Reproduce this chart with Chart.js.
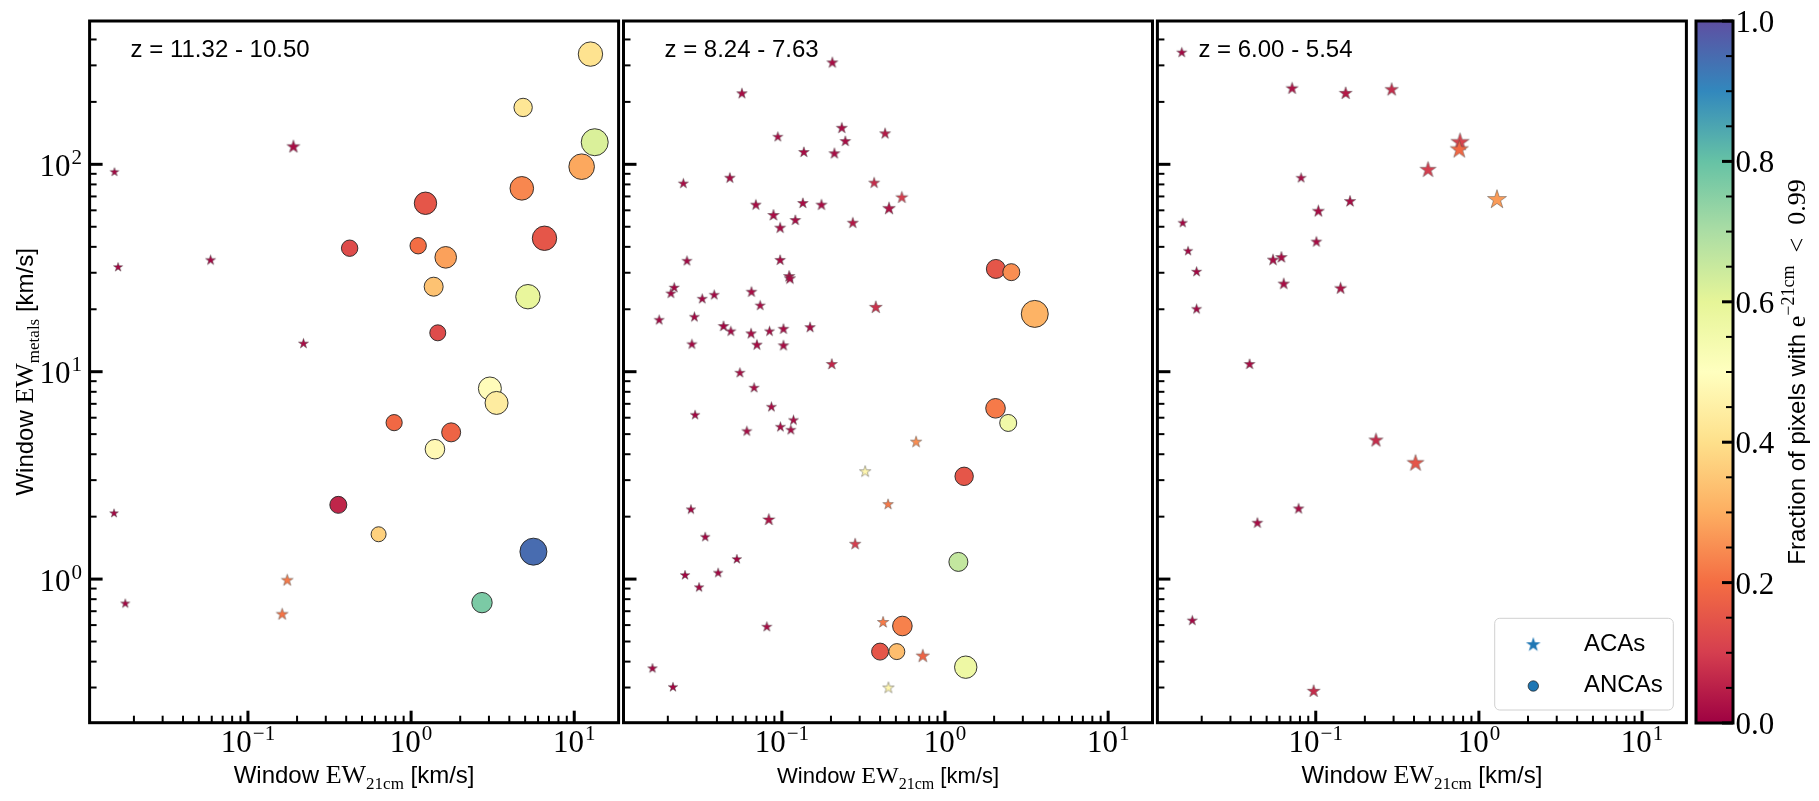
<!DOCTYPE html>
<html>
<head>
<meta charset="utf-8">
<title>Window EW scatter</title>
<script src="https://cdn.jsdelivr.net/npm/chart.js@4.4.1/dist/chart.umd.min.js"></script>
<style>
    html, body { margin: 0; padding: 0; background: #fff; }
    #wrap { position: relative; width: 1819px; height: 801px; overflow: hidden; }
    #wrap canvas { position: absolute; left: 0; top: 0; }
</style>
</head>
<body>
<div id="wrap">
    <canvas id="panel1" width="1819" height="801"></canvas>
    <canvas id="panel2" width="1819" height="801"></canvas>
    <canvas id="panel3" width="1819" height="801"></canvas>
    <canvas id="cbar" width="1819" height="801"></canvas>
</div>
<script>
// axis ranges and tick labels
const X_MIN = 0.0107, X_MAX = 18.7;
const Y_MIN = 0.203, Y_MAX = 491;
const xMajorTicks = [0.1, 1, 10];
const xTickExp = ["\u22121", "0", "1"];
const yMajorTicks = [1, 10, 100];
const yTickExp = ["0", "1", "2"];
const cbarTicks = [0, 0.2, 0.4, 0.6, 0.8, 1.0];
const cbarTickLabels = ["0.0", "0.2", "0.4", "0.6", "0.8", "1.0"];
const panelTitles = ["z = 11.32 - 10.50", "z = 8.24 - 7.63", "z = 6.00 - 5.54"];
const legendLabels = ["ACAs", "ANCAs"];

// panel 1 (z = 11.32 - 10.50)
const p1StarX = [0.0152, 0.19, 0.016, 0.059, 0.219, 0.0151, 0.174, 0.0177, 0.162];
const p1StarY = [92, 122, 32, 34.6, 13.7, 2.08, 0.99, 0.764, 0.679];
const p1StarFrac = [0.01, 0.02, 0.01, 0.01, 0.02, 0.01, 0.22, 0.01, 0.21];
const p1StarSize = [4.6, 6.8, 4.8, 5.3, 5.3, 4.6, 6.2, 4.8, 6.2];
const p1CircX = [4.86, 4.77, 1.225, 0.42, 1.105, 1.63, 1.375, 1.457, 5.2, 3.04, 3.34, 0.787, 1.76, 1.40, 0.358, 0.632, 2.72, 5.62, 12.57, 13.35, 11.1, 6.57];
const p1CircY = [188, 76.6, 64.9, 39.4, 40.5, 35.6, 25.7, 15.4, 23, 8.3, 7.07, 5.68, 5.1, 4.23, 2.28, 1.645, 0.77, 1.356, 340, 127.8, 97.4, 44];
const p1CircFrac = [0.42, 0.24, 0.15, 0.13, 0.2, 0.28, 0.34, 0.13, 0.59, 0.49, 0.44, 0.19, 0.18, 0.48, 0.06, 0.37, 0.77, 0.95, 0.41, 0.62, 0.29, 0.15];
const p1CircSize = [9.7, 12.3, 11.7, 8.7, 8.7, 11.3, 10, 8.5, 12.7, 12, 12, 8.6, 10, 10.3, 9, 8, 10.7, 14, 12.7, 14, 13.3, 12.7];

// panel 2 (z = 8.24 - 7.63)
const p2StarX = [0.204, 0.0569, 0.233, 0.0945, 0.4295, 0.245, 0.1364, 0.21, 0.0249, 0.048,
    0.368, 0.5436, 0.454, 0.0693, 0.1345, 0.1749, 0.0888, 0.121, 0.0976, 0.272,
    0.0262, 0.0976, 0.1109, 0.112, 0.0219, 0.0209, 0.0325, 0.0385, 0.0651, 0.0736,
    0.3766, 0.0177, 0.0291, 0.0439, 0.0487, 0.0648, 0.084, 0.1023, 0.149, 0.0281,
    0.0703, 0.1023, 0.2024, 0.0553, 0.0676, 0.0294, 0.0863, 0.061, 0.098, 0.1178,
    0.1135, 0.665, 0.324, 0.448, 0.0277, 0.0832, 0.0339, 0.2813, 0.053, 0.0255,
    0.0407, 0.0311, 0.0809, 0.4175, 0.731, 0.0161, 0.0215, 0.45];
const p2StarY = [310, 220, 150, 136, 141, 129.5, 114.7, 113, 81, 86.2,
    81.6, 69.4, 61.4, 63.9, 65.1, 63.9, 57, 53.9, 49.5, 52.3,
    34.3, 34.6, 28.9, 28.2, 25.5, 23.9, 22.5, 23.5, 24.3, 20.9,
    20.5, 17.8, 18.4, 16.6, 15.7, 15.3, 15.7, 16.1, 16.4, 13.6,
    13.5, 13.4, 10.9, 9.9, 8.38, 6.2, 6.78, 5.18, 5.43, 5.85,
    5.25, 4.6, 3.31, 2.30, 2.17, 1.94, 1.6, 1.48, 1.25, 1.047,
    1.074, 0.914, 0.59, 0.621, 0.427, 0.372, 0.302, 0.30];
const p2StarFrac = [0.02, 0.02, 0.02, 0.02, 0.04, 0.02, 0.02, 0.02, 0.02, 0.02,
    0.07, 0.1, 0.03, 0.02, 0.02, 0.02, 0.02, 0.02, 0.02, 0.04,
    0.01, 0.02, 0.02, 0.02, 0.01, 0.01, 0.01, 0.01, 0.02, 0.02,
    0.08, 0.01, 0.01, 0.01, 0.01, 0.02, 0.02, 0.02, 0.02, 0.01,
    0.02, 0.02, 0.06, 0.02, 0.02, 0.01, 0.02, 0.02, 0.02, 0.02,
    0.02, 0.25, 0.47, 0.22, 0.01, 0.03, 0.01, 0.1, 0.01, 0.01,
    0.01, 0.01, 0.02, 0.22, 0.18, 0.01, 0.01, 0.47];
const p2StarSize = [5.8, 5.6, 5.8, 5.3, 5.8, 5.6, 5.6, 5.8, 5.3, 5.6,
    5.8, 6.3, 6.7, 5.6, 5.6, 5.8, 6.0, 5.6, 5.8, 5.8,
    5.3, 5.6, 6.0, 6.0, 5.3, 5.3, 5.3, 5.3, 5.6, 5.3,
    6.7, 5.3, 5.3, 5.6, 5.3, 5.6, 5.3, 5.6, 5.6, 5.3,
    5.6, 5.6, 5.8, 5.3, 5.3, 5.0, 5.3, 5.3, 5.3, 5.3,
    5.3, 6.0, 6.0, 5.6, 5.0, 6.3, 5.0, 6.0, 5.0, 5.0,
    5.0, 5.0, 5.3, 6.0, 7.0, 5.0, 5.0, 6.0];
const p2CircX = [2.05, 2.55, 3.55, 2.04, 2.44, 1.31, 1.208, 0.548, 0.40, 0.5066, 1.34];
const p2CircY = [31.3, 30.2, 19.0, 6.66, 5.66, 3.13, 1.21, 0.594, 0.447, 0.447, 0.376];
const p2CircFrac = [0.15, 0.25, 0.31, 0.22, 0.56, 0.15, 0.66, 0.23, 0.15, 0.33, 0.57];
const p2CircSize = [10, 9, 14, 10.3, 9, 9.7, 10, 10.3, 9, 8.5, 11.7];

// panel 3 (z = 6.00 - 5.54)
const p3StarX = [0.0151, 0.0716, 0.1525, 0.2918, 0.4876, 0.766, 0.758, 1.29, 0.0813, 0.1622,
    0.1037, 0.0153, 0.1009, 0.0165, 0.0547, 0.0616, 0.0186, 0.0636, 0.142, 0.0186,
    0.0393, 0.234, 0.409, 0.0439, 0.0785, 0.0175, 0.0971];
const p3StarY = [347, 233, 220.7, 230, 94.6, 128.4, 118.6, 68, 86.2, 66.5,
    59.6, 52.3, 42.4, 38.3, 34.7, 35.7, 30.4, 26.6, 25.3, 20.1,
    10.9, 4.69, 3.64, 1.87, 2.19, 0.633, 0.289];
const p3StarFrac = [0.01, 0.03, 0.04, 0.07, 0.1, 0.11, 0.19, 0.27, 0.02, 0.02,
    0.02, 0.01, 0.02, 0.01, 0.02, 0.02, 0.01, 0.02, 0.03, 0.01,
    0.02, 0.07, 0.15, 0.02, 0.02, 0.01, 0.07];
const p3StarSize = [5.3, 6.3, 6.7, 7.0, 8.4, 9.5, 9.5, 10, 5.3, 6.0,
    6.3, 4.9, 5.6, 4.9, 6.0, 6.0, 5.3, 6.0, 6.3, 5.3,
    5.6, 7.4, 8.8, 5.6, 5.6, 5.3, 6.7];

// Spectral colormap anchors
const SPECTRAL = ["#9e0142", "#d53e4f", "#f46d43", "#fdae61", "#fee08b", "#ffffbf",
    "#e6f598", "#abdda4", "#66c2a5", "#3288bd", "#5e4fa2"];

// layout of the figure
const PANEL_LEFT = [89.6, 623.5, 1157.4];
const PANEL_W = 529;
const PLOT_TOP = 21, PLOT_BOTTOM = 722.7;
const FIG_W = 1819, FIG_H = 801;

const SANS = '"Liberation Sans", Arial, sans-serif';
const SERIF = '"Liberation Serif", "Times New Roman", serif';

function hexToRgb(h) {
    return [parseInt(h.slice(1, 3), 16), parseInt(h.slice(3, 5), 16), parseInt(h.slice(5, 7), 16)];
}

function spectral(t) {
    t = Math.min(1, Math.max(0, t)) * (SPECTRAL.length - 1);
    const i = Math.min(Math.floor(t), SPECTRAL.length - 2);
    const f = t - i;
    const a = hexToRgb(SPECTRAL[i]), b = hexToRgb(SPECTRAL[i + 1]);
    const c = a.map((v, k) => Math.round(v + (b[k] - v) * f));
    return "rgb(" + c.join(",") + ")";
}

// filled 5 point star (matplotlib "*" marker) as a canvas point style
const starCache = {};
function starImage(color, r, edge) {
    const key = color + "|" + r + "|" + edge;
    if (starCache[key]) return starCache[key];
    const s = Math.ceil(2 * r + 4);
    const c = document.createElement("canvas");
    c.width = s;
    c.height = s;
    const g = c.getContext("2d");
    g.translate(s / 2, s / 2 + r * 0.06);
    g.beginPath();
    for (let k = 0; k < 10; k++) {
        const rr = k % 2 === 0 ? r : r * 0.381966;
        const a = -Math.PI / 2 + k * Math.PI / 5;
        g.lineTo(rr * Math.cos(a), rr * Math.sin(a));
    }
    g.closePath();
    g.fillStyle = color;
    g.fill();
    if (edge) {
        g.lineWidth = 0.6;
        g.strokeStyle = edge;
        g.stroke();
    }
    starCache[key] = c;
    return c;
}

function logTicks(min, max) {
    const out = [];
    for (let e = Math.floor(Math.log10(min)); e <= Math.ceil(Math.log10(max)); e++) {
        for (let m = 1; m < 10; m++) {
            const v = parseFloat((m * Math.pow(10, e)).toPrecision(6));
            if (v >= min && v <= max) out.push({value: v, major: m === 1});
        }
    }
    return out;
}

function drawRich(ctx, parts, x, y, align) {
    let w = 0;
    parts.forEach(function (p) {
        ctx.font = p.font;
        p.w = ctx.measureText(p.text).width;
        w += p.w;
    });
    let cx = align === "center" ? x - w / 2 : (align === "right" ? x - w : x);
    ctx.textAlign = "left";
    ctx.textBaseline = "alphabetic";
    parts.forEach(function (p) {
        ctx.font = p.font;
        ctx.fillText(p.text, cx, y + (p.dy || 0));
        cx += p.w;
    });
}

// "10" with a raised exponent
function drawPow(ctx, exp, x, y, align) {
    const base = "31px " + SERIF, small = "21px " + SERIF;
    ctx.font = base;
    const wb = ctx.measureText("10").width;
    ctx.font = small;
    const we = ctx.measureText(exp).width;
    const w = wb + 1 + we;
    const sx = align === "center" ? x - w / 2 : x - w;
    ctx.textAlign = "left";
    ctx.textBaseline = "alphabetic";
    ctx.font = base;
    ctx.fillText("10", sx, y);
    ctx.font = small;
    ctx.fillText(exp, sx + wb + 1, y - 12);
}

function ewTitle(sub, size) {
    return [
        {text: "Window ", font: size + "px " + SANS},
        {text: "EW", font: (size + 2) + "px " + SERIF},
        {text: sub, font: Math.round(size * 0.72) + "px " + SERIF, dy: 5.5},
        {text: " [km/s]", font: size + "px " + SANS},
    ];
}

function strokeLine(ctx, x1, y1, x2, y2) {
    ctx.beginPath();
    ctx.moveTo(x1, y1);
    ctx.lineTo(x2, y2);
    ctx.stroke();
}

function panelDecor(i) {
    return {
        id: "panelDecor" + i,
        afterDatasetsDraw(chart) {
            const ctx = chart.ctx;
            const a = chart.chartArea;
            const xs = chart.scales.x, ys = chart.scales.y;
            ctx.save();
            ctx.strokeStyle = "#000";
            ctx.fillStyle = "#000";
            ctx.lineCap = "butt";

            // inward ticks
            xs.ticks.forEach(function (t) {
                const px = xs.getPixelForValue(t.value);
                ctx.lineWidth = t.major ? 3 : 2;
                strokeLine(ctx, px, a.bottom, px, a.bottom - (t.major ? 12 : 7));
            });
            ys.ticks.forEach(function (t) {
                const py = ys.getPixelForValue(t.value);
                ctx.lineWidth = t.major ? 3 : 2;
                strokeLine(ctx, a.left, py, a.left + (t.major ? 13 : 7), py);
            });

            // frame
            ctx.lineWidth = 3;
            ctx.strokeRect(a.left, a.top, a.right - a.left, a.bottom - a.top);

            // tick labels
            xMajorTicks.forEach(function (v, k) {
                drawPow(ctx, xTickExp[k], xs.getPixelForValue(v), 751.7, "center");
            });
            if (i === 0) {
                yMajorTicks.forEach(function (v, k) {
                    drawPow(ctx, yTickExp[k], a.left - 7.5, ys.getPixelForValue(v) + 11.5, "right");
                });
            }

            // redshift label
            ctx.font = "24px " + SANS;
            ctx.textAlign = "left";
            ctx.textBaseline = "alphabetic";
            ctx.fillText(panelTitles[i], a.left + 41, 57.3);

            // x title
            drawRich(ctx, ewTitle("21cm", i === 1 ? 22 : 24), (a.left + a.right) / 2, 783, "center");

            // y title
            if (i === 0) {
                ctx.save();
                ctx.translate(33, (a.top + a.bottom) / 2);
                ctx.rotate(-Math.PI / 2);
                drawRich(ctx, ewTitle("metals", 24), 0, 0, "center");
                ctx.restore();
            }

            // legend
            if (i === 2) {
                const bx = 1494.7, by = 618.3, bw = 178.6, bh = 91.7;
                ctx.beginPath();
                ctx.roundRect(bx, by, bw, bh, 5);
                ctx.fillStyle = "rgba(255,255,255,0.8)";
                ctx.fill();
                ctx.lineWidth = 1;
                ctx.strokeStyle = "#d0d0d0";
                ctx.stroke();

                const star = starImage("#1f77b4", 7.7, null);
                ctx.drawImage(star, 1533.3 - star.width / 2, 644.3 - star.height / 2);
                ctx.beginPath();
                ctx.arc(1533.3, 686, 5.2, 0, Math.PI * 2);
                ctx.fillStyle = "#1f77b4";
                ctx.fill();
                ctx.lineWidth = 0.8;
                ctx.strokeStyle = "rgba(30,30,30,0.9)";
                ctx.stroke();

                ctx.fillStyle = "#000";
                ctx.font = "24px " + SANS;
                ctx.fillText(legendLabels[0], 1584, 650.7);
                ctx.fillText(legendLabels[1], 1584, 692.3);
            }
            ctx.restore();
        },
    };
}

function makePanel(i, canvasId, stars, circles) {
    const left = PANEL_LEFT[i];
    const datasets = [
        {
            label: legendLabels[0],
            data: stars.x.map(function (x, k) { return {x: x, y: stars.y[k]}; }),
            pointStyle: stars.frac.map(function (f, k) {
                return starImage(spectral(f), stars.size[k], "rgba(70,70,70,0.75)");
            }),
            pointRadius: stars.size,
        },
    ];
    if (circles) {
        datasets.push({
            label: legendLabels[1],
            data: circles.x.map(function (x, k) { return {x: x, y: circles.y[k]}; }),
            pointStyle: "circle",
            pointRadius: circles.size.map(function (r) { return r - 0.5; }),
            pointBackgroundColor: circles.frac.map(spectral),
            pointBorderColor: "rgba(35,35,35,0.9)",
            pointBorderWidth: 1,
        });
    }

    const ctx = document.getElementById(canvasId).getContext("2d");
    return new Chart(ctx, {
        type: "scatter",
        data: {datasets: datasets},
        options: {
            responsive: false,
            animation: false,
            events: [],
            layout: {
                padding: {left: left - 10, right: FIG_W - (left + PANEL_W), top: PLOT_TOP, bottom: 0},
            },
            plugins: {
                legend: {display: false},
                tooltip: {enabled: false},
            },
            scales: {
                x: {
                    type: "logarithmic",
                    min: X_MIN,
                    max: X_MAX,
                    bounds: "data",
                    grid: {display: false},
                    border: {display: false},
                    ticks: {display: false},
                    afterBuildTicks: function (scale) {
                        scale.ticks = logTicks(X_MIN, X_MAX);
                    },
                    afterFit: function (scale) {
                        scale.height = FIG_H - PLOT_BOTTOM;
                    },
                },
                y: {
                    type: "logarithmic",
                    min: Y_MIN,
                    max: Y_MAX,
                    bounds: "data",
                    grid: {display: false},
                    border: {display: false},
                    ticks: {display: false},
                    afterBuildTicks: function (scale) {
                        scale.ticks = logTicks(Y_MIN, Y_MAX);
                    },
                    afterFit: function (scale) {
                        scale.width = 10;
                    },
                },
            },
        },
        plugins: [panelDecor(i)],
    });
}

// Colorbar
const cbarDecor = {
    id: "cbarDecor",
    afterDraw(chart) {
        const ctx = chart.ctx;
        const a = chart.chartArea;
        const ys = chart.scales.y;
        ctx.save();
        const grad = ctx.createLinearGradient(0, ys.getPixelForValue(0), 0, ys.getPixelForValue(1));
        SPECTRAL.forEach(function (c, k) {
            grad.addColorStop(k / (SPECTRAL.length - 1), c);
        });
        ctx.fillStyle = grad;
        ctx.fillRect(a.left, a.top, a.right - a.left, a.bottom - a.top);

        ctx.strokeStyle = "#000";
        ys.ticks.forEach(function (t) {
            const py = ys.getPixelForValue(t.value);
            ctx.lineWidth = t.major ? 3 : 2;
            strokeLine(ctx, a.right, py, a.right - (t.major ? 11 : 7), py);
        });
        ctx.lineWidth = 3;
        ctx.strokeRect(a.left, a.top, a.right - a.left, a.bottom - a.top);

        ctx.fillStyle = "#000";
        ctx.font = "31px " + SERIF;
        ctx.textAlign = "left";
        ctx.textBaseline = "alphabetic";
        cbarTicks.forEach(function (v, k) {
            ctx.fillText(cbarTickLabels[k], a.right + 2.5, ys.getPixelForValue(v) + 11);
        });

        ctx.translate(1805, (a.top + a.bottom) / 2);
        ctx.rotate(-Math.PI / 2);
        drawRich(ctx, [
            {text: "Fraction of pixels with ", font: "24px " + SANS},
            {text: "e", font: "26px " + SERIF},
            {text: "\u221221cm", font: "18px " + SERIF, dy: -11},
            {text: "  <  0.99", font: "26px " + SERIF},
        ], 0, 0, "center");
        ctx.restore();
    },
};

function makeColorbar() {
    const ctx = document.getElementById("cbar").getContext("2d");
    return new Chart(ctx, {
        type: "scatter",
        data: {datasets: []},
        options: {
            responsive: false,
            animation: false,
            events: [],
            layout: {padding: {left: 1696, right: FIG_W - 1733, top: PLOT_TOP, bottom: FIG_H - 723}},
            plugins: {legend: {display: false}, tooltip: {enabled: false}},
            scales: {
                x: {type: "linear", display: false},
                y: {
                    type: "linear",
                    position: "right",
                    min: 0,
                    max: 1,
                    grid: {display: false},
                    border: {display: false},
                    ticks: {display: false},
                    afterBuildTicks: function (scale) {
                        const t = [];
                        for (let k = 0; k <= 20; k++) {
                            const v = k / 20;
                            t.push({value: v, major: k % 4 === 0});
                        }
                        scale.ticks = t;
                    },
                    afterFit: function (scale) {
                        scale.width = 0;
                    },
                },
            },
        },
        plugins: [cbarDecor],
    });
}

document.addEventListener("DOMContentLoaded", function () {
    makePanel(0, "panel1",
        {x: p1StarX, y: p1StarY, frac: p1StarFrac, size: p1StarSize},
        {x: p1CircX, y: p1CircY, frac: p1CircFrac, size: p1CircSize});
    makePanel(1, "panel2",
        {x: p2StarX, y: p2StarY, frac: p2StarFrac, size: p2StarSize},
        {x: p2CircX, y: p2CircY, frac: p2CircFrac, size: p2CircSize});
    makePanel(2, "panel3",
        {x: p3StarX, y: p3StarY, frac: p3StarFrac, size: p3StarSize},
        null);
    makeColorbar();
});
</script>
</body>
</html>
